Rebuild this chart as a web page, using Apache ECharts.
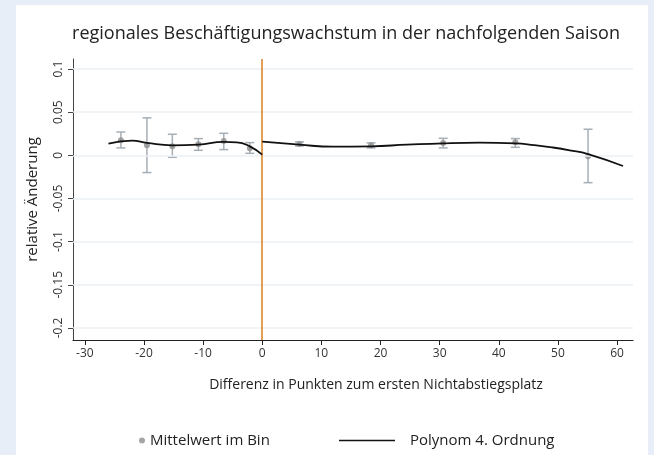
<!DOCTYPE html>
<html>
<head>
<meta charset="utf-8">
<script src="https://cdn.jsdelivr.net/npm/echarts@6/dist/echarts.min.js"></script>
<style>
  html, body { margin: 0; padding: 0; background: #e7eef8; }
  #main { width: 654px; height: 455px; }
</style>
</head>
<body>
<div id="main"></div>
<script>
    // bin means with 95% intervals
    var binX = [-23.9, -19.5, -15.2, -10.8, -6.5, -2.1, 6.3, 18.4, 30.6, 42.8, 55.1];
    var binMean = [0.0174, 0.0116, 0.0104, 0.0128, 0.0167, 0.0081, 0.0132, 0.0116, 0.0144, 0.0151, -0.0012];
    var binLow = [0.0086, -0.0200, -0.0023, 0.0058, 0.0066, 0.0023, 0.0109, 0.0086, 0.0086, 0.0093, -0.0317];
    var binHigh = [0.0270, 0.0434, 0.0244, 0.0194, 0.0255, 0.0147, 0.0155, 0.0144, 0.0197, 0.0194, 0.0302];

    // 4th order polynomial fit
    var fitLeftX = [-26.0, -22.0, -19.5, -15.2, -10.8, -6.5, -4.3, -2.1, 0];
    var fitLeftY = [0.0136, 0.0170, 0.0144, 0.0116, 0.0124, 0.0155, 0.0151, 0.0104, 0.0008];
    var fitRightX = [0, 6.3, 12, 18.4, 24.5, 30.6, 36.7, 42.8, 46, 49, 52, 55.1, 61];
    var fitRightY = [0.0158, 0.0123, 0.0100, 0.0104, 0.0123, 0.0139, 0.0146, 0.0139, 0.0118, 0.0092, 0.0058, 0.0014, -0.0124];

    var xTicks = [-30, -20, -10, 0, 10, 20, 30, 40, 50, 60];
    var yTicks = [-0.2, -0.15, -0.1, -0.05, 0, 0.05, 0.1];

    var fontFam = '"Open Sans", Lato, sans-serif';

    var means = binX.map(function (x, i) { return [x, binMean[i]]; });
    var bars = binX.map(function (x, i) { return [x, binLow[i], binHigh[i]]; });
    var fitLeft = fitLeftX.map(function (x, i) { return [x, fitLeftY[i]]; });
    var fitRight = fitRightX.map(function (x, i) { return [x, fitRightY[i]]; });

    var myChart = echarts.init(document.getElementById('main'));
    var option = {
        animation: false,
        backgroundColor: 'transparent',
        graphic: [
            {
                type: 'rect',
                z: -10,
                shape: {x: 16, y: 5, width: 632, height: 455},
                style: {fill: '#ffffff'}
            }
        ],
        title: {
            text: 'regionales Beschäftigungswachstum in der nachfolgenden Saison',
            left: 341,
            textAlign: 'center',
            top: 20,
            textStyle: {fontFamily: fontFam, fontWeight: 'normal', fontSize: 18, color: '#222'}
        },
        legend: [
            {
                data: ['Mittelwert im Bin'],
                left: 134,
                top: 428,
                icon: 'circle',
                itemWidth: 6,
                itemHeight: 6,
                textStyle: {fontFamily: fontFam, fontSize: 15, color: '#222'}
            },
            {
                data: ['Polynom 4. Ordnung'],
                left: 334,
                top: 428,
                icon: 'rect',
                itemWidth: 56,
                itemHeight: 1.5,
                itemStyle: {color: '#111'},
                textStyle: {fontFamily: fontFam, fontSize: 15, color: '#222', padding: [0, 0, 0, 10]}
            }
        ],
        grid: {left: 73, right: 21, top: 59, bottom: 115},
        xAxis: {
            type: 'value',
            min: -32,
            max: 62.7,
            name: 'Differenz in Punkten zum ersten Nichtabstiegsplatz',
            nameLocation: 'middle',
            nameGap: 38,
            nameTextStyle: {fontFamily: fontFam, fontSize: 14, color: '#222', padding: [0, 0, 0, 46]},
            axisLine: {onZero: false, lineStyle: {color: '#222', width: 1.2}},
            axisTick: {customValues: xTicks, length: 5, lineStyle: {color: '#222'}},
            axisLabel: {customValues: xTicks, margin: 8, fontFamily: fontFam, fontSize: 12, color: '#333'},
            splitLine: {show: false}
        },
        yAxis: {
            type: 'value',
            min: -0.214,
            max: 0.1116,
            name: 'relative Änderung',
            nameLocation: 'middle',
            nameGap: 33,
            nameRotate: 90,
            nameTextStyle: {fontFamily: fontFam, fontSize: 15, color: '#222'},
            axisLine: {show: true, onZero: false, lineStyle: {color: '#444', width: 1}},
            axisTick: {show: true, customValues: yTicks, length: 5, lineStyle: {color: '#444'}},
            axisLabel: {
                customValues: yTicks, rotate: 90, margin: 8,
                fontFamily: fontFam, fontSize: 12, color: '#333',
                formatter: function (v) { return String(v); }
            },
            splitLine: {show: false}
        },
        series: [
            {
                // horizontal grid lines + threshold at 0
                type: 'line',
                data: [],
                silent: true,
                markLine: {
                    symbol: 'none',
                    silent: true,
                    label: {show: false},
                    data: yTicks.map(function (v) {
                        return {yAxis: v, lineStyle: {color: '#edf1f4', width: 1.5, type: 'solid'}};
                    }).concat([{xAxis: 0, lineStyle: {color: '#d9801e', width: 1.5, type: 'solid'}}])
                }
            },
            {
                type: 'custom',
                name: 'ci',
                data: bars,
                z: 3,
                renderItem: function (params, api) {
                    var x = api.value(0);
                    var lo = api.coord([x, api.value(1)]);
                    var hi = api.coord([x, api.value(2)]);
                    var w = 4.5;
                    var st = {stroke: '#a6afb7', lineWidth: 1.5};
                    return {
                        type: 'group',
                        children: [
                            {type: 'line', shape: {x1: lo[0], y1: lo[1], x2: hi[0], y2: hi[1]}, style: st},
                            {type: 'line', shape: {x1: lo[0] - w, y1: lo[1], x2: lo[0] + w, y2: lo[1]}, style: st},
                            {type: 'line', shape: {x1: hi[0] - w, y1: hi[1], x2: hi[0] + w, y2: hi[1]}, style: st}
                        ]
                    };
                }
            },
            {
                name: 'Mittelwert im Bin',
                type: 'scatter',
                data: means,
                symbolSize: 6,
                z: 4,
                itemStyle: {color: '#8e8e8e'}
            },
            {
                name: 'Polynom 4. Ordnung',
                type: 'line',
                data: fitLeft,
                smooth: true,
                symbol: 'none',
                z: 5,
                lineStyle: {color: '#111', width: 1.8}
            },
            {
                name: 'Polynom 4. Ordnung',
                type: 'line',
                data: fitRight,
                smooth: true,
                symbol: 'none',
                z: 5,
                lineStyle: {color: '#111', width: 1.8}
            }
        ]
    };
    myChart.setOption(option);
</script>
</body>
</html>
